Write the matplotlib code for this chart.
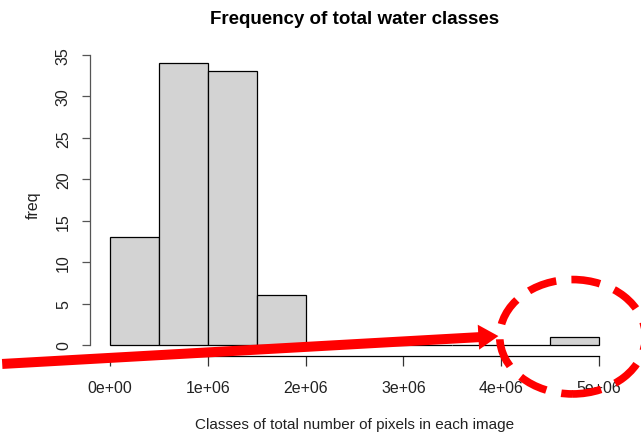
import matplotlib
matplotlib.use("Agg")
import matplotlib.pyplot as plt
from matplotlib.patches import Ellipse, FancyArrowPatch
import numpy as np

plt.rcParams["font.family"] = ["Liberation Sans", "DejaVu Sans"]

# histogram classes (bin edges) and counts
BIN_EDGES = [0, 0.5e6, 1.0e6, 1.5e6, 2.0e6, 2.5e6, 3.0e6, 3.5e6, 4.0e6, 4.5e6, 5.0e6]
COUNTS = [13, 34, 33, 6, 0, 0, 0, 0, 0, 1]
X_TICKS = [0, 1e6, 2e6, 3e6, 4e6, 5e6]
X_TICK_LABELS = ["0e+00", "1e+06", "2e+06", "3e+06", "4e+06", "5e+06"]
Y_TICKS = [0, 5, 10, 15, 20, 25, 30, 35]

fig = plt.figure(figsize=(6.41, 4.35), dpi=100)
ax = fig.add_axes([0.141, 0.1786, 0.824, 0.6998])

edges = np.array(BIN_EDGES)
ax.bar(edges[:-1], COUNTS, width=np.diff(edges), align="edge",
       color="#d3d3d3", edgecolor="black", linewidth=0.9)

# R-style axes: no box, axis lines only between first and last tick
ax.set_xlim(-0.2e6, 5.2e6)
ax.set_ylim(-1.36, 35.36)
for s in ("top", "right"):
    ax.spines[s].set_visible(False)
ax.spines["bottom"].set_bounds(0, 5e6)
ax.spines["left"].set_bounds(0, 35)
ax.spines["bottom"].set_linewidth(0.9)
ax.spines["left"].set_linewidth(0.9)
ax.spines["left"].set_color("#555555")
ax.set_xticks(X_TICKS)
ax.set_xticklabels(X_TICK_LABELS)
ax.set_yticks(Y_TICKS)
ax.set_yticklabels([str(v) for v in Y_TICKS], rotation=90, va="center")
ax.tick_params(axis="x", length=7, width=0.9, pad=10, labelsize=11.5, colors="#333333",
               labelcolor="#222222")
ax.tick_params(axis="y", length=6, width=0.9, pad=8, labelsize=11.5, colors="#555555",
               labelcolor="#222222")

ax.set_xlabel("Classes of total number of pixels in each image", fontsize=11,
              labelpad=16, color="#222222")
ax.set_ylabel("freq", fontsize=11.5, labelpad=11, color="#222222")
ax.set_title("Frequency of total water classes", fontsize=13.5, fontweight="bold",
             pad=21)

# red arrow pointing at the lone bar near 5e6
arrow = FancyArrowPatch((-1.13e6, -2.3), (4.0e6, 1.1),
                        arrowstyle="simple,head_length=1.2,head_width=1.5,tail_width=0.6",
                        mutation_scale=12, color="#ff0000", linewidth=0,
                        clip_on=False, zorder=5)
ax.add_patch(arrow)

# dashed red circle around it
ring = Ellipse((4.73e6, 1.0), width=1.49e6, height=13.8, fill=False,
               edgecolor="#ff0000", linewidth=5.5, linestyle=(0, (3.8, 2.0)),
               clip_on=False, zorder=5)
ax.add_patch(ring)

fig.savefig("out.png", dpi=100)
